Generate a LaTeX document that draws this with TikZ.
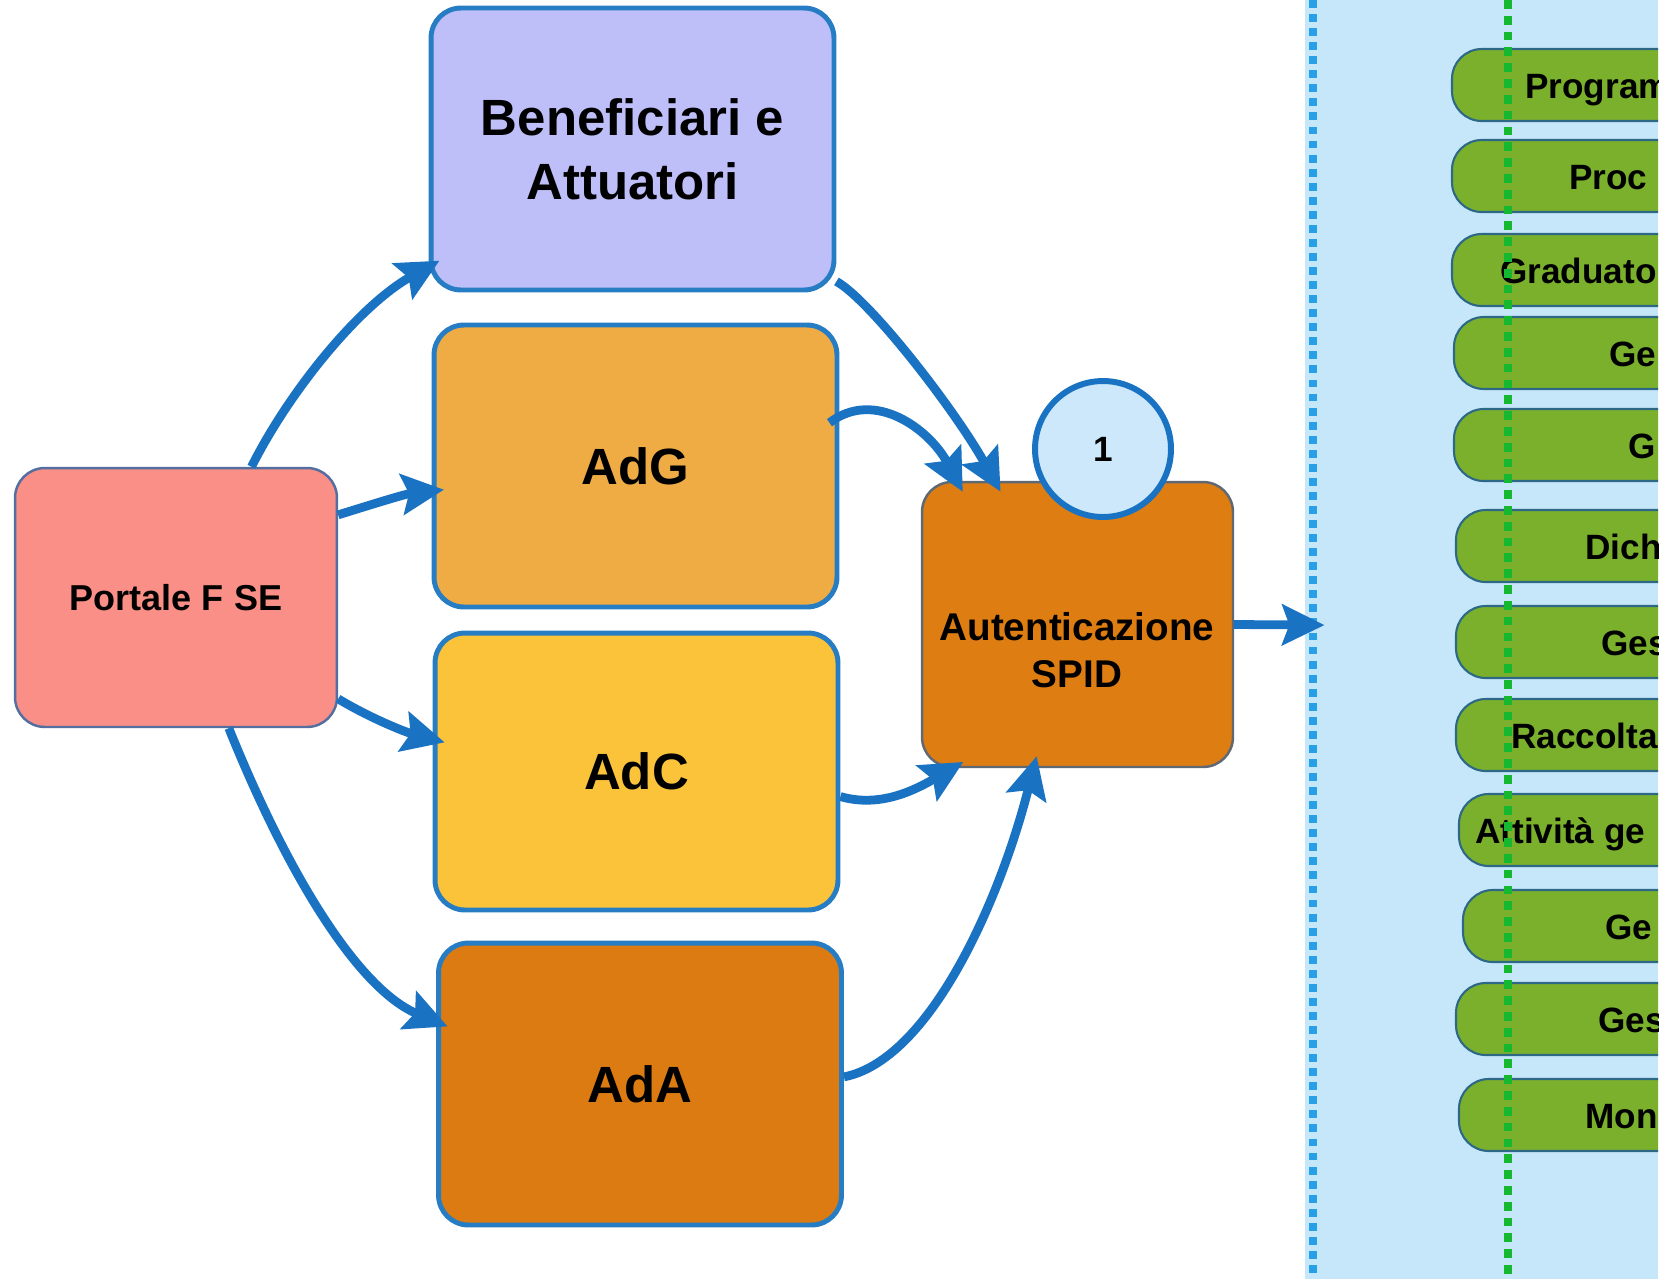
\documentclass[tikz,border=0pt]{standalone}
\usepackage{fontspec}
\setmainfont{Liberation Sans}
\usepackage{tikz}
\usetikzlibrary{arrows.meta}
\usetikzlibrary{calc}

\definecolor{yajirushi}{RGB}{26,115,194}
\definecolor{waku}{RGB}{38,125,196}
\definecolor{murasaki}{RGB}{190,190,248}
\definecolor{daidai}{RGB}{239,172,69}
\definecolor{kiiro}{RGB}{251,195,58}
\definecolor{chairo}{RGB}{220,123,18}
\definecolor{pinku}{RGB}{249,143,134}
\definecolor{pfwaku}{RGB}{85,110,160}
\definecolor{spidiro}{RGB}{222,125,18}
\definecolor{spidwaku}{RGB}{95,105,115}
\definecolor{maruiro}{RGB}{205,232,250}
\definecolor{paneru}{RGB}{198,230,250}
\definecolor{aoten}{RGB}{40,160,232}
\definecolor{midoriten}{RGB}{22,184,48}
\definecolor{pillmidori}{RGB}{122,176,44}
\definecolor{pillwaku}{RGB}{45,105,135}

\begin{document}
\begin{tikzpicture}[x=0.02cm,y=-0.02cm,
    box/.style={draw=waku,line width=2.8pt,rounded corners=17pt,align=center,minimum width=8.06cm,minimum height=5.64cm,font=\bfseries\fontsize{29}{36.4}\selectfont},
    pfbox/.style={draw=pfwaku,line width=1.4pt,rounded corners=17pt,minimum width=6.44cm,minimum height=5.18cm,font=\bfseries\fontsize{20.5}{24}\selectfont},
    spidbox/.style={draw=spidwaku,fill=spidiro,line width=1.4pt,rounded corners=17pt,minimum width=6.22cm,minimum height=5.7cm},
    maru/.style={circle,draw=yajirushi,fill=maruiro,line width=3.4pt,minimum size=2.72cm,font=\bfseries\fontsize{20}{22}\selectfont},
    ya/.style={draw=yajirushi,line width=5pt,->,>={Stealth[length=24pt,width=23pt,inset=4pt]},shorten >=-0.25cm},
    pill/.style={draw=pillwaku,line width=1.2pt,fill=pillmidori,rounded corners=17pt},
    pilltext/.style={anchor=base west,inner sep=0pt,font=\bfseries\fontsize{20}{24}\selectfont}]

          \fill[white] (0,0) rectangle (1674,1279); %背景
          \useasboundingbox (0,0) rectangle (1674,1279); %全体

          \fill[paneru] (1305,0) rectangle (1658,1279); %右パネル
          \begin{scope}
            \clip (1305,0) rectangle (1658,1279); %右端で切る
            \foreach \y/\l/\x/\t [count=\i] in {85/1452/1525/Program, 176/1452/1569/Proc, 270/1452/1500/Graduato, 353/1454/1609/Ge, 445/1454/1628/G, 546/1456/1585/Dich, 642/1456/1601/Ges, 735/1456/1511/Raccolta, 830/1459/1475/Attività ge, 926/1463/1605/Ge, 1019/1456/1598/Ges, 1115/1459/1585/Mon}{
              \draw[pill] (\l,\y-36) rectangle (1720,\y+36); %機能
              \node[pilltext] (M\i) at (\x,\y+13) {\t};
            }
            \draw[midoriten,line width=4.5pt,dash pattern=on 5pt off 4pt] (1508,0) -- (1508,1279); %緑の点線
          \end{scope}
          \draw[aoten,line width=4.5pt,dash pattern=on 4.5pt off 3.5pt] (1313,0) -- (1313,1279); %青の点線

          \node[pfbox,fill=pinku] (PF) at (176,597.5) {Portale F SE}; %ポータル
          \node[box,fill=murasaki] (BA) at (632.5,149) {Beneficiari e\\Attuatori}; %受益者
          \node[box,fill=daidai] (AdG) at (635.5,466) {AdG}; %AdG
          \node[box,fill=kiiro,minimum height=5.54cm] (AdC) at (636.5,771.5) {AdC}; %AdC
          \node[box,fill=chairo] (AdA) at (640,1084) {AdA}; %AdA
          \node[spidbox] (SPID) at (1077.5,624.5) {}; %認証
          \node[align=center,font=\bfseries\fontsize{22}{26.7}\selectfont] (SPIDt) at (1077,650) {Autenticazione\\SPID}; %認証の文字
          \coordinate (IN) at (1312,625); %パネルの入口

          \draw[ya] (PF.60) .. controls (290,390) and (360,305) .. (BA.210); %ポータル→受益者
          \draw[ya] (PF.27) .. controls (370,505) and (405,494) .. (AdG.187); %ポータル→AdG
          \draw[ya] (PF.-32) .. controls (370,718) and (405,732) .. (AdC.171); %ポータル→AdC
          \draw[ya] (PF.-68) .. controls (290,880) and (360,990) .. (AdA.163); %ポータル→AdA
          \draw[ya] (BA.-33) .. controls (870,300) and (955,410) .. (SPID.120); %受益者→認証
          \draw[ya,shorten <=-0.25cm] (AdG.14) .. controls (875,388) and (930,430) .. (SPID.130); %AdG→認証
          \draw[ya] (AdC.-7) .. controls (880,808) and (915,790) .. (SPID.229); %AdC→認証
          \draw[ya] (AdA.2) .. controls (930,1060) and (1000,900) .. (SPID.253); %AdA→認証
          \draw[ya] (SPID.east) -- (IN); %認証→パネル

          \node[maru] (N1) at (1103,449) {1}; %番号

        \end{tikzpicture}
\end{document}
